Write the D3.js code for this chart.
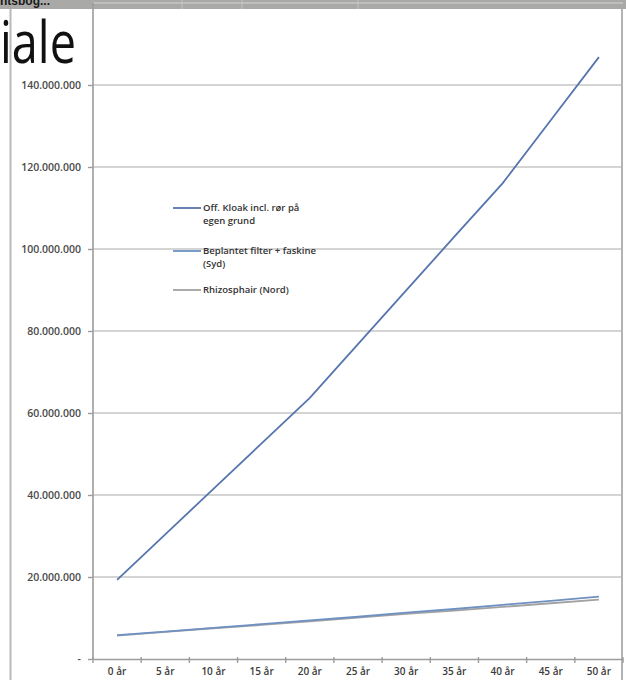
<!DOCTYPE html>
<html>
<head>
<meta charset="utf-8">
<script src="https://d3js.org/d3.v7.min.js"></script>
<style>
  html, body { margin: 0; padding: 0; background: #fff; }
  svg { display: block; }
</style>
</head>
<body>
<script>
// Categories and series
const years = ['0 år', '5 år', '10 år', '15 år', '20 år', '25 år', '30 år', '35 år', '40 år', '45 år', '50 år'];
const offKloak = [19.3, 30.4, 41.5, 52.6, 63.7, 76.8, 89.9, 103.0, 116.0, 131.4, 146.8].map(v => v * 1e6);
const beplantet = [5.8, 6.7, 7.6, 8.5, 9.4, 10.3, 11.3, 12.2, 13.2, 14.2, 15.2].map(v => v * 1e6);
const rhizo = [5.7, 6.6, 7.5, 8.3, 9.2, 10.1, 11.0, 11.8, 12.7, 13.6, 14.5].map(v => v * 1e6);
const yTicks = [0, 20e6, 40e6, 60e6, 80e6, 100e6, 120e6, 140e6, 160e6];
const seriesNames = [['Off. Kloak incl. rør på', 'egen grund'], ['Beplantet filter + faskine', '(Syd)'], ['Rhizosphair (Nord)']];
const seriesColors = ['#5675ae', '#6e91c2', '#a2a2a2'];

const width = 626;
const height = 680;
const plot = { left: 93, right: 623, top: 3, bottom: 659 };

const svg = d3.select('body').append('svg')
  .attr('width', width)
  .attr('height', height);

// Slide bits around the chart (toolbar strip, title fragment, borders)
const strip = svg.append('g');
strip.append('rect')
  .attr('x', 0).attr('y', 0).attr('width', width).attr('height', 9)
  .attr('fill', '#a9a9a7');
strip.append('clipPath').attr('id', 'stripClip')
  .append('rect').attr('x', 0).attr('y', 0).attr('width', width).attr('height', 9);
strip.append('text')
  .attr('clip-path', 'url(#stripClip)')
  .attr('x', 0).attr('y', 5)
  .style('font-family', 'Liberation Sans, Arial, sans-serif')
  .style('font-size', '12px')
  .style('font-weight', 'bold')
  .style('fill', '#1a1a1a')
  .text('ntsbog...');
[182, 242, 358].forEach(x => {
  strip.append('line')
    .attr('x1', x).attr('x2', x).attr('y1', 0).attr('y2', 9)
    .attr('stroke', '#c4c4c2').attr('stroke-width', 1);
});

const x = d3.scaleBand()
  .domain(years)
  .range([plot.left, plot.right])
  .padding(0);

const y = d3.scaleLinear()
  .domain([0, 160e6])
  .range([plot.bottom, plot.top]);

const locale = d3.formatLocale({ decimal: ',', thousands: '.', grouping: [3], currency: ['', ''] });
const fmt = locale.format(',d');

// Gridlines
svg.append('g')
  .selectAll('line')
  .data(yTicks.filter(d => d > 0))
  .enter().append('line')
  .attr('x1', plot.left).attr('x2', plot.right)
  .attr('y1', d => y(d)).attr('y2', d => y(d))
  .attr('stroke', '#c6c6c6')
  .attr('stroke-width', 1.6);

// Chart borders
svg.append('line')
  .attr('x1', 10.5).attr('x2', 10.5).attr('y1', 9).attr('y2', height)
  .attr('stroke', '#b9b9b9').attr('stroke-width', 2);
svg.append('line')
  .attr('x1', 622).attr('x2', 622).attr('y1', 9).attr('y2', height)
  .attr('stroke', '#b3b3b3').attr('stroke-width', 2);

// Big title fragment (the rest of the word is off the left edge)
svg.append('text')
  .attr('x', 0).attr('y', 63)
  .attr('textLength', 76)
  .attr('lengthAdjust', 'spacingAndGlyphs')
  .style('font-family', 'Open Sans, sans-serif')
  .style('font-size', '58px')
  .style('fill', '#111')
  .text('iale');

// Y axis
const yAxis = svg.append('g')
  .attr('transform', `translate(${plot.left},0)`)
  .call(d3.axisLeft(y)
    .tickValues(yTicks.filter(d => d < 160e6))
    .tickSize(5)
    .tickPadding(7)
    .tickFormat(d => d === 0 ? '-' : fmt(d)));
yAxis.select('.domain')
  .attr('d', `M0,${plot.top}V${plot.bottom}`)
  .attr('stroke', '#9c9c9c')
  .attr('stroke-width', 1.6);
yAxis.selectAll('.tick line').attr('stroke', '#9c9c9c').attr('stroke-width', 1.4);
yAxis.selectAll('.tick text')
  .style('font-family', 'Open Sans, sans-serif')
  .style('font-size', '10.5px')
  .style('font-weight', '600')
  .style('fill', '#4a4a4a');

// X axis
const xAxis = svg.append('g')
  .attr('transform', `translate(0,${plot.bottom})`)
  .call(d3.axisBottom(x).tickSize(0).tickPadding(9));
xAxis.select('.domain')
  .attr('stroke', '#9c9c9c')
  .attr('stroke-width', 1.6);
xAxis.selectAll('.tick text')
  .style('font-family', 'Open Sans, sans-serif')
  .style('font-size', '10px')
  .style('font-weight', '600')
  .style('fill', '#3c3c3c');
// tick marks between categories
xAxis.append('g')
  .selectAll('line')
  .data(d3.range(years.length + 1))
  .enter().append('line')
  .attr('x1', i => plot.left + i * x.step())
  .attr('x2', i => plot.left + i * x.step())
  .attr('y1', -2).attr('y2', 4)
  .attr('stroke', '#9c9c9c')
  .attr('stroke-width', 1.4);

// Lines
const line = d3.line()
  .x((d, i) => x(years[i]) + x.bandwidth() / 2)
  .y(d => y(d));

[rhizo, beplantet, offKloak].forEach((series, k) => {
  svg.append('path')
    .datum(series)
    .attr('d', line)
    .attr('fill', 'none')
    .attr('stroke', seriesColors[2 - k])
    .attr('stroke-width', 1.8);
});

// Legend (no background, sits over the gridlines)
const legendY = [208, 251, 290];
const legend = svg.append('g');
seriesNames.forEach((lines, i) => {
  const g = legend.append('g').attr('transform', `translate(173,${legendY[i]})`);
  g.append('line')
    .attr('x1', 0).attr('x2', 28)
    .attr('y1', 0).attr('y2', 0)
    .attr('stroke', seriesColors[i])
    .attr('stroke-width', 1.8);
  g.append('text')
    .attr('x', 30)
    .attr('y', 3)
    .style('font-family', 'Open Sans, sans-serif')
    .style('font-size', '9.5px')
    .style('font-weight', '600')
    .style('fill', '#333')
    .selectAll('tspan')
    .data(lines)
    .enter().append('tspan')
    .attr('x', 30)
    .attr('dy', (d, j) => j === 0 ? 0 : 13)
    .text(d => d);
});
</script>
</body>
</html>
